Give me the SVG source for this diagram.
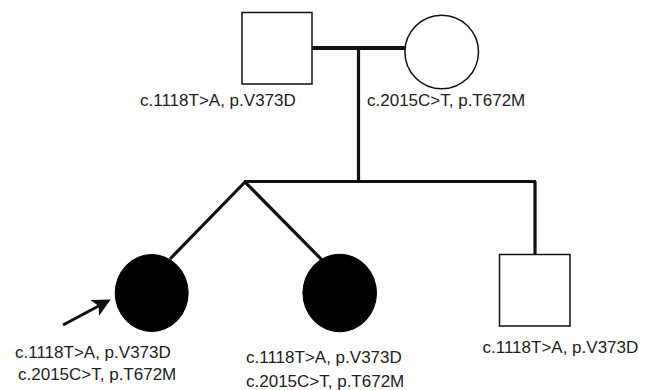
<svg xmlns="http://www.w3.org/2000/svg" width="653" height="390" viewBox="0 0 653 390">
<style>
.line{stroke:#111;stroke-width:3.2;fill:none;stroke-linecap:butt}
.open{fill:#fff;stroke:#111;stroke-width:1.5}
.aff{fill:#000;stroke:#000;stroke-width:1}
text{font-family:"Liberation Sans",Arial,sans-serif;font-size:17px;fill:#222}
</style>
<defs>
<marker id="ah" markerWidth="6" markerHeight="6" refX="5" refY="3" orient="auto" markerUnits="strokeWidth">
<path d="M0,0 L6,3 L0,6 L1.5,3 Z" fill="#111"/>
</marker>
</defs>
<g id="connectors">
<line class="line" x1="312" y1="48" x2="405" y2="48" style="stroke-width:4"/>
<line class="line" x1="358.5" y1="48" x2="358.5" y2="182"/>
<line class="line" x1="244" y1="181.5" x2="536" y2="181.5"/>
<line class="line" x1="535" y1="181" x2="535" y2="254"/>
<line class="line" x1="245" y1="182" x2="170" y2="259"/>
<line class="line" x1="245" y1="182" x2="322" y2="260"/>
<line class="line" x1="63" y1="325" x2="108" y2="301" marker-end="url(#ah)" style="stroke-width:3"/>
</g>
<g id="father">
<rect class="open" x="242" y="12.5" width="70" height="71.5"/>
<text x="140" y="106">c.1118T&gt;A, p.V373D</text>
</g>
<g id="mother">
<circle class="open" cx="441.7" cy="52" r="36.8"/>
<text x="367" y="106">c.2015C&gt;T, p.T672M</text>
</g>
<g id="proband">
<ellipse class="aff" cx="151.7" cy="293" rx="36.5" ry="38.5"/>
<text x="15" y="358">c.1118T&gt;A, p.V373D</text>
<text x="18" y="380">c.2015C&gt;T, p.T672M</text>
</g>
<g id="sister">
<ellipse class="aff" cx="339.7" cy="293" rx="36.8" ry="38.8"/>
<text x="246" y="363">c.1118T&gt;A, p.V373D</text>
<text x="246" y="387">c.2015C&gt;T, p.T672M</text>
</g>
<g id="brother">
<rect class="open" x="499.5" y="254.5" width="70.5" height="71.5"/>
<text x="482.5" y="353">c.1118T&gt;A, p.V373D</text>
</g>
</svg>
